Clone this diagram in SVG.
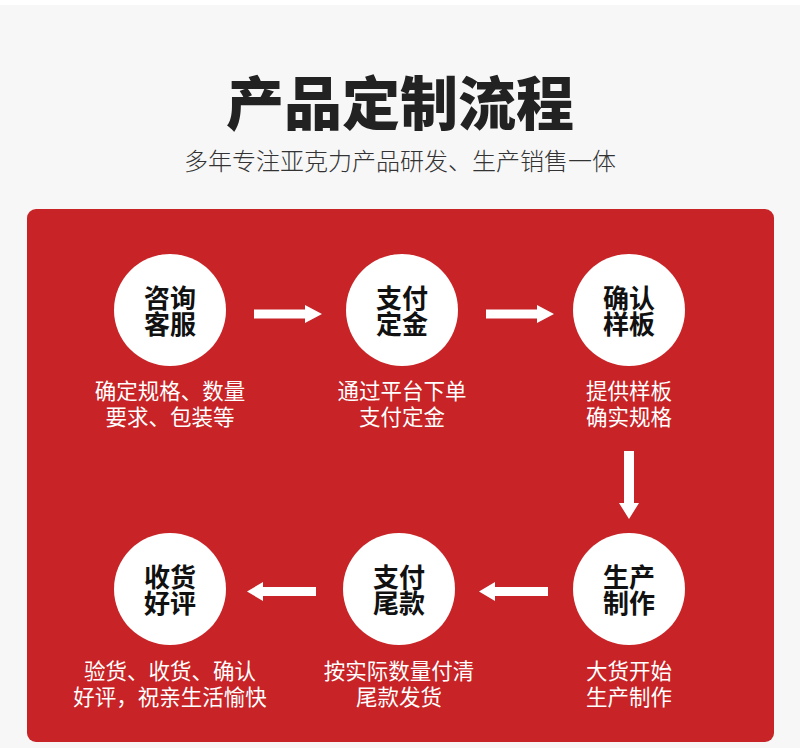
<svg xmlns="http://www.w3.org/2000/svg" width="800" height="748" viewBox="0 0 800 748">
<style>
.t{font-family:"Noto Sans CJK SC","Noto Sans",sans-serif;text-anchor:middle}
.title{font-size:58px;font-weight:900;fill:#222}
.sub{font-size:24px;font-weight:300;fill:#333}
.node circle{fill:#fff}
.nt{font-size:26px;font-weight:700;fill:#111}
.dt{font-size:21.5px;font-weight:400;fill:#fff}
.arrow{fill:#fff}
</style>
<rect width="800" height="748" fill="#f7f7f7"/>
<rect width="800" height="5" fill="#fff"/>
<text class="t title" x="400" y="125">产品定制流程</text>
<text class="t sub" x="400" y="170">多年专注亚克力产品研发、生产销售一体</text>
<rect x="27" y="209" width="747" height="533" rx="9" fill="#c82326"/>
<g id="n1" class="node"><circle cx="170" cy="310" r="56"/><text class="t nt" x="170" y="308">咨询</text><text class="t nt" x="170" y="334">客服</text><text class="t dt" x="170" y="399">确定规格、数量</text><text class="t dt" x="170" y="425">要求、包装等</text></g>
<g id="n2" class="node"><circle cx="402" cy="310" r="56"/><text class="t nt" x="402" y="308">支付</text><text class="t nt" x="402" y="334">定金</text><text class="t dt" x="402" y="399">通过平台下单</text><text class="t dt" x="402" y="425">支付定金</text></g>
<g id="n3" class="node"><circle cx="629" cy="310" r="56"/><text class="t nt" x="629" y="308">确认</text><text class="t nt" x="629" y="334">样板</text><text class="t dt" x="629" y="399">提供样板</text><text class="t dt" x="629" y="425">确实规格</text></g>
<g id="n4" class="node"><circle cx="629" cy="589" r="56"/><text class="t nt" x="629" y="587">生产</text><text class="t nt" x="629" y="613">制作</text><text class="t dt" x="629" y="679">大货开始</text><text class="t dt" x="629" y="705">生产制作</text></g>
<g id="n5" class="node"><circle cx="399" cy="589" r="56"/><text class="t nt" x="399" y="587">支付</text><text class="t nt" x="399" y="613">尾款</text><text class="t dt" x="399" y="679">按实际数量付清</text><text class="t dt" x="399" y="705">尾款发货</text></g>
<g id="n6" class="node"><circle cx="170" cy="589" r="56"/><text class="t nt" x="170" y="587">收货</text><text class="t nt" x="170" y="613">好评</text><text class="t dt" x="170" y="679">验货、收货、确认</text><text class="t dt" x="170" y="705">好评，祝亲生活愉快</text></g>
<g id="connectors" class="arrow">
<path d="M254 309.5H305V305L322 314L305 323V318.5H254Z"/>
<path d="M486 309.5H537V305L554 314L537 323V318.5H486Z"/>
<path d="M624 451V503H619L629 519L639 503H634V451Z"/>
<path d="M316 587V596H263V601L247 591.5L263 582V587Z"/>
<path d="M548 587V596H495V601L479 591.5L495 582V587Z"/>
</g>
</svg>
